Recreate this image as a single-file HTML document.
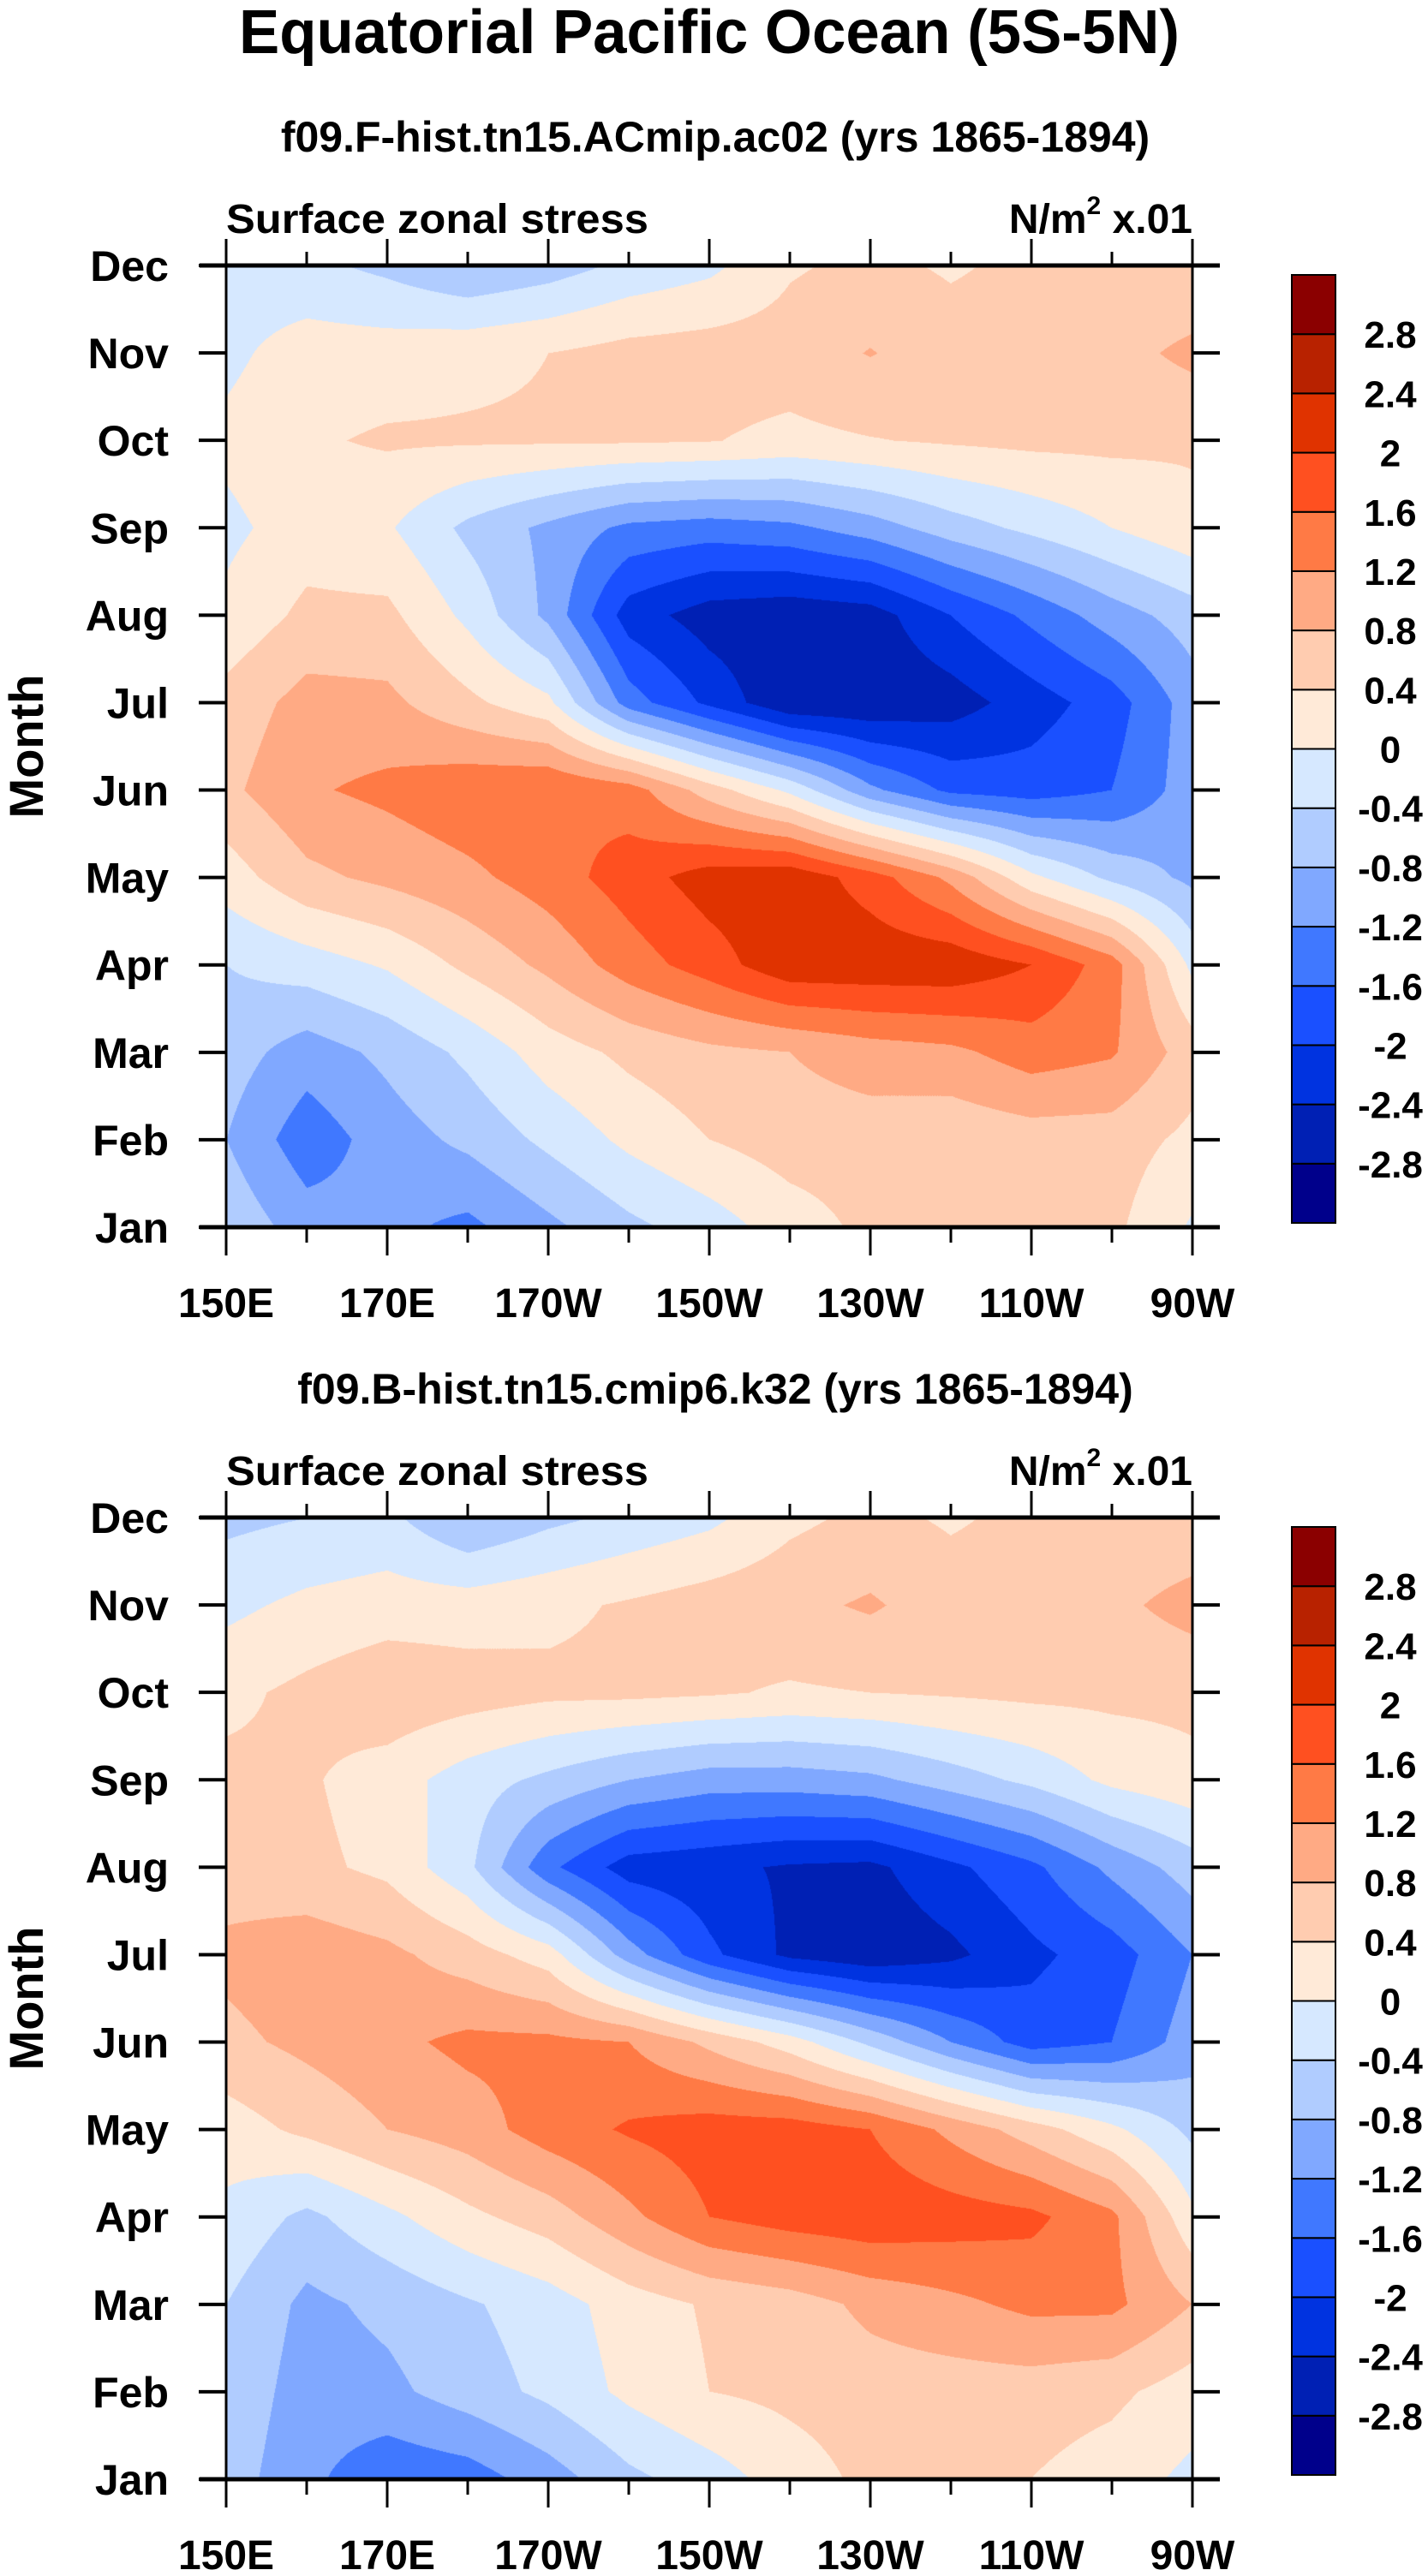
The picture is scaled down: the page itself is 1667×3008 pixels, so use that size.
<!DOCTYPE html>
<html><head><meta charset="utf-8">
<style>
html,body{margin:0;padding:0;background:#fff;}
body{width:1667px;height:3008px;position:relative;overflow:hidden;font-family:"Liberation Sans",Arial,sans-serif;}
canvas{position:absolute;}
svg{position:absolute;left:0;top:0;}
</style></head>
<body>
<canvas id="c1" width="1128" height="1123" style="left:264px;top:310px"></canvas>
<canvas id="c2" width="1128" height="1123" style="left:264px;top:1772px"></canvas>
<svg id="ov" width="1667" height="3008" xmlns="http://www.w3.org/2000/svg">
<text x="828" y="62" text-anchor="middle" font-size="72" font-weight="bold" font-family="Liberation Sans, sans-serif" textLength="1098" lengthAdjust="spacingAndGlyphs">Equatorial Pacific Ocean (5S-5N)</text>
</svg>
<script>
// levels and colours
const levels=[-2.8,-2.4,-2,-1.6,-1.2,-0.8,-0.4,0,0.4,0.8,1.2,1.6,2,2.4,2.8];
const colors=["#00008b","#0020b4","#0033e0","#1a50ff","#4078ff","#80a8ff","#b0ccff","#d6e8ff","#ffead8","#ffccb0","#ffaa84","#ff7a45","#ff5020","#e03300","#b82200","#8b0000"];
const months=["Jan","Feb","Mar","Apr","May","Jun","Jul","Aug","Sep","Oct","Nov","Dec"];
const lonLabels=["150E","170E","170W","150W","130W","110W","90W"];
const lons=[150,160,170,180,190,200,210,220,230,240,250,260,270];
// panel 1 values (rows Jan..Dec, columns 150E..90W every 10 deg)
const dataTop=[
[-0.5,-1.0,-1.1,-1.3,-0.9,-0.5,-0.2,0.2,0.5,0.5,0.5,0.5,-0.05],
[-0.8,-1.45,-1.0,-0.7,-0.3,0.1,0.4,0.6,0.6,0.5,0.6,0.6,0.3],
[-0.6,-1.0,-0.7,-0.3,0.2,0.5,0.7,0.8,1.0,1.1,1.4,1.25,0.6],
[-0.4,-0.2,0.05,0.5,0.9,1.4,1.8,2.3,2.3,2.3,2.0,1.4,-0.1],
[0.2,0.7,0.9,1.1,1.4,1.8,2.2,2.3,1.8,1.1,0.1,-0.5,-0.9],
[0.7,1.15,1.3,1.5,1.6,1.4,0.6,-0.1,-1.1,-1.7,-1.8,-1.6,-1.0],
[0.55,0.95,0.9,0.5,0.1,-1.4,-2.1,-2.75,-2.75,-2.6,-2.2,-1.8,-1.0],
[0.1,0.5,0.5,-0.1,-0.9,-2.2,-2.6,-2.7,-2.6,-2.0,-1.5,-1.0,-0.6],
[-0.1,0.2,0.05,-0.5,-0.9,-1.3,-1.4,-1.3,-1.0,-0.6,-0.3,0.0,0.3],
[0.1,0.35,0.45,0.45,0.45,0.45,0.42,0.3,0.38,0.45,0.5,0.5,0.45],
[-0.1,0.2,0.2,0.3,0.4,0.55,0.6,0.6,0.82,0.6,0.6,0.65,0.9],
[-0.2,-0.3,-0.5,-0.8,-0.6,-0.3,-0.1,0.35,0.5,0.35,0.5,0.5,0.45]
];
// panel 2 values
const dataBottom=[
[-0.6,-1.1,-1.5,-1.4,-1.0,-0.5,-0.2,0.2,0.5,0.5,0.4,0.2,-0.1],
[-0.5,-1.0,-0.9,-0.6,-0.3,0.1,0.4,0.5,0.6,0.6,0.6,0.5,0.2],
[-0.4,-0.9,-0.7,-0.45,-0.2,0.2,0.45,0.6,0.9,1.1,1.3,1.3,0.8],
[-0.1,-0.5,-0.1,0.3,0.6,1.1,1.6,1.8,1.9,1.8,1.7,1.3,0.1],
[0.2,0.5,0.8,1.0,1.4,1.65,1.8,1.8,1.6,1.1,0.6,0.1,-0.5],
[0.7,0.9,1.1,1.3,1.3,1.2,0.7,0.2,-0.5,-1.2,-1.8,-1.6,-1.0],
[0.9,1.05,0.9,0.6,0.2,-1.0,-1.9,-2.5,-2.7,-2.5,-2.1,-1.8,-1.2],
[0.6,0.5,0.3,-0.3,-1.5,-2.2,-2.3,-2.45,-2.5,-2.1,-1.7,-1.1,-0.6],
[0.5,0.45,0.2,-0.2,-0.5,-0.8,-1.0,-1.0,-0.9,-0.6,-0.3,0.1,0.3],
[0.3,0.5,0.7,0.6,0.5,0.5,0.45,0.35,0.4,0.45,0.5,0.5,0.5],
[-0.1,0.1,0.2,0.2,0.3,0.45,0.6,0.7,0.85,0.6,0.6,0.7,0.95],
[-0.5,-0.4,-0.3,-0.8,-0.5,-0.3,-0.1,0.3,0.5,0.35,0.5,0.5,0.5]
];

const PL=264,PR=1392,PW=1128,PH=1123;
function colorIndex(v){let i=0;while(i<levels.length&&v>=levels[i])i++;return i;}
function hex(h){return [parseInt(h.substr(1,2),16),parseInt(h.substr(3,2),16),parseInt(h.substr(5,2),16)];}
const rgb=colors.map(hex);
function drawField(id,data){
  const cv=document.getElementById(id),ctx=cv.getContext('2d');
  const img=ctx.createImageData(PW,PH);const nx=lons.length-1,ny=months.length-1;
  for(let py=0;py<PH;py++){
    const fy=(PH-1-py)/(PH-1)*ny;let j=Math.min(Math.floor(fy),ny-1);const ty=fy-j;
    for(let px=0;px<PW;px++){
      const fx=px/(PW-1)*nx;let i=Math.min(Math.floor(fx),nx-1);const tx=fx-i;
      const v=(data[j][i]*(1-tx)+data[j][i+1]*tx)*(1-ty)+(data[j+1][i]*(1-tx)+data[j+1][i+1]*tx)*ty;
      const c=rgb[colorIndex(v)];const k=(py*PW+px)*4;
      img.data[k]=c[0];img.data[k+1]=c[1];img.data[k+2]=c[2];img.data[k+3]=255;
    }
  }
  ctx.putImageData(img,0,0);
}
drawField('c1',dataTop);drawField('c2',dataBottom);

const NS='http://www.w3.org/2000/svg';const ov=document.getElementById('ov');
function el(tag,attrs,txt){const e=document.createElementNS(NS,tag);for(const k in attrs)e.setAttribute(k,attrs[k]);if(txt!==undefined)e.textContent=txt;ov.appendChild(e);return e;}
const xScale=lon=>PL+(lon-150)/120*PW;
function panel(top,sub,tag){
  const bottom=top+PH;const yScale=m=>bottom-m/11*PH;
  const s=el('text',{x:835,y:top-133,'text-anchor':'middle','font-size':50,'font-weight':'bold','font-family':'Liberation Sans, sans-serif'},sub);
  
  
  const l=el('text',{x:PL,y:top-38,'font-size':48,'font-weight':'bold','font-family':'Liberation Sans, sans-serif',textLength:493,lengthAdjust:'spacingAndGlyphs'},'Surface zonal stress');
  
  
  const u=el('text',{x:PR,y:top-38,'text-anchor':'end','font-size':48,'font-weight':'bold','font-family':'Liberation Sans, sans-serif'});
  u.innerHTML='N/m<tspan font-size="30" dy="-22">2</tspan><tspan dy="22"> x.01</tspan>';
  
  
  const yt=el('text',{x:0,y:0,'text-anchor':'middle','font-size':56,'font-weight':'bold','font-family':'Liberation Sans, sans-serif',transform:`translate(50,${top+PH/2}) rotate(-90)`},'Month');
  
  
  months.forEach((m,i)=>{
    const y=yScale(i);
    const t=el('text',{x:197,y:y+18,'text-anchor':'end','font-size':50,'font-weight':'bold','font-family':'Liberation Sans, sans-serif'},m);
    
    
    const a=el('line',{x1:232,x2:PL,y1:y,y2:y,stroke:'#000','stroke-width':4});
    
    
    const b=el('line',{x1:PR,x2:1424,y1:y,y2:y,stroke:'#000','stroke-width':4});
    
    
  });
  lons.forEach((lon,i)=>{
    const x=xScale(lon);const len=(i%2===0)?31:16;
    const a=el('line',{x1:x,x2:x,y1:top-len,y2:top,stroke:'#000','stroke-width':3});
    
    
    const b=el('line',{x1:x,x2:x,y1:bottom,y2:bottom+len+2,stroke:'#000','stroke-width':3});
    
    
  });
  lonLabels.forEach((lb,i)=>{
    const t=el('text',{x:xScale(150+i*20),y:bottom+105,'text-anchor':'middle','font-size':48,'font-weight':'bold','font-family':'Liberation Sans, sans-serif'},lb);
    
    
  });
  const f1=el('line',{x1:233,x2:1424,y1:top,y2:top,stroke:'#000','stroke-width':5});
  
  
  const f2=el('line',{x1:233,x2:1424,y1:bottom,y2:bottom,stroke:'#000','stroke-width':5});
  
  
  const f3=el('line',{x1:PL,x2:PL,y1:top,y2:bottom,stroke:'#000','stroke-width':3});
  
  
  const f4=el('line',{x1:PR,x2:PR,y1:top,y2:bottom,stroke:'#000','stroke-width':3});
  
  
  // colorbar
  const cbTop=top+11,cbH=1107,bh=cbH/colors.length;
  colors.forEach((c,i)=>{
    const r=el('rect',{x:1508,y:cbTop+(colors.length-1-i)*bh,width:51,height:bh,fill:c,stroke:'#000','stroke-width':2});
    
    
  });
  levels.forEach((lv,i)=>{
    const y=cbTop+(levels.length-i)*bh;
    const t=el('text',{x:1623,y:y+16,'text-anchor':'middle','font-size':44,'font-weight':'bold','font-family':'Liberation Sans, sans-serif'},String(lv));
    
    
  });
}
panel(310,'f09.F-hist.tn15.ACmip.ac02 (yrs 1865-1894)','top-panel');
panel(1772,'f09.B-hist.tn15.cmip6.k32 (yrs 1865-1894)','bottom-panel');
</script>
</body></html>
